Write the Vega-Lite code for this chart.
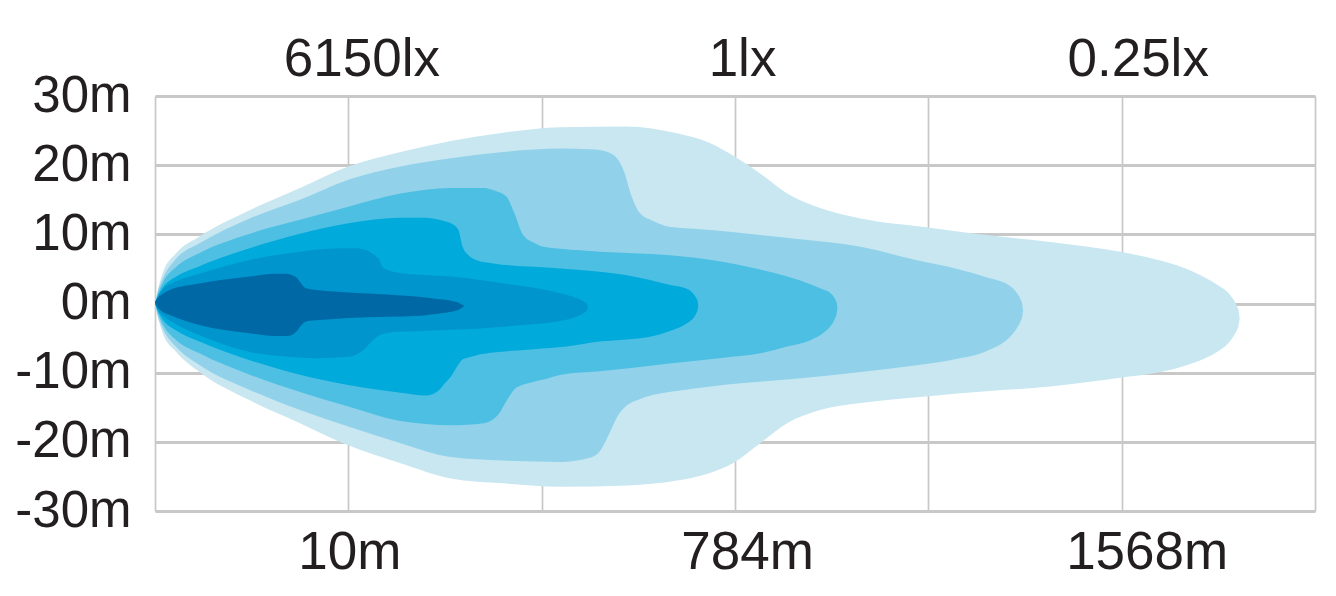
{
  "$schema": "https://vega.github.io/schema/vega-lite/v6.json",
  "autosize": "none",
  "width": 1160,
  "height": 415,
  "padding": {"left": 155, "top": 96, "right": 21, "bottom": 85},
  "background": "white",
  "config": {
    "view": {"stroke": null},
    "axis": {"labelFont": "Liberation Sans", "labelColor": "#231f20", "labelFontSize": 51, "title": null}
  },
  "datasets": {
    "b6": [
      {"d": 0, "hi": 0, "lo": 0}, {"d": 0.015, "hi": 2.0, "lo": -2.0}, {"d": 0.04, "hi": 4.4, "lo": -4.3},
      {"d": 0.11, "hi": 7.3, "lo": -7.0}, {"d": 0.23, "hi": 9.7, "lo": -9.9}, {"d": 0.49, "hi": 13.5, "lo": -14.0},
      {"d": 0.75, "hi": 16.7, "lo": -17.3}, {"d": 1.0, "hi": 19.8, "lo": -20.5}, {"d": 1.27, "hi": 21.9, "lo": -23.1},
      {"d": 1.53, "hi": 23.5, "lo": -25.3}, {"d": 1.8, "hi": 24.7, "lo": -26.0}, {"d": 2.1, "hi": 25.5, "lo": -26.5},
      {"d": 2.44, "hi": 25.6, "lo": -26.3}, {"d": 2.7, "hi": 24.6, "lo": -25.6}, {"d": 2.87, "hi": 23.2, "lo": -24.5},
      {"d": 3.0, "hi": 21.2, "lo": -22.9}, {"d": 3.13, "hi": 18.8, "lo": -20.2}, {"d": 3.27, "hi": 15.9, "lo": -17.3},
      {"d": 3.44, "hi": 13.8, "lo": -15.4}, {"d": 3.65, "hi": 12.3, "lo": -14.4}, {"d": 4.0, "hi": 11.0, "lo": -13.4},
      {"d": 4.3, "hi": 9.9, "lo": -12.7}, {"d": 4.63, "hi": 8.9, "lo": -12.0}, {"d": 5.0, "hi": 7.45, "lo": -10.7},
      {"d": 5.2, "hi": 6.2, "lo": -9.9}, {"d": 5.37, "hi": 4.6, "lo": -8.6}, {"d": 5.5, "hi": 2.6, "lo": -6.9},
      {"d": 5.55, "hi": 1.6, "lo": -5.8}, {"d": 5.57, "hi": 0.9, "lo": -5.1}, {"d": 5.59, "hi": 0.0, "lo": -4.2},
      {"d": 5.6, "hi": -0.6, "lo": -3.6}, {"d": 5.605, "hi": -1.0, "lo": -3.2}, {"d": 5.61, "hi": -2.1, "lo": -2.1}
    ],
    "b5": [
      {"d": 0, "hi": 0, "lo": 0}, {"d": 0.015, "hi": 1.8, "lo": -1.8}, {"d": 0.04, "hi": 3.6, "lo": -3.6},
      {"d": 0.11, "hi": 6.5, "lo": -6.3}, {"d": 0.23, "hi": 8.7, "lo": -8.9}, {"d": 0.49, "hi": 12.3, "lo": -12.5},
      {"d": 0.75, "hi": 15.0, "lo": -15.4}, {"d": 1.0, "hi": 17.9, "lo": -17.8}, {"d": 1.27, "hi": 19.8, "lo": -20.2},
      {"d": 1.53, "hi": 21.0, "lo": -22.2}, {"d": 1.8, "hi": 21.9, "lo": -22.7}, {"d": 2.1, "hi": 22.4, "lo": -22.9},
      {"d": 2.25, "hi": 22.3, "lo": -22.3}, {"d": 2.3, "hi": 22.2, "lo": -21.4}, {"d": 2.35, "hi": 21.8, "lo": -18.8},
      {"d": 2.39, "hi": 21.0, "lo": -16.4}, {"d": 2.43, "hi": 18.8, "lo": -15.0}, {"d": 2.46, "hi": 15.9, "lo": -14.4},
      {"d": 2.51, "hi": 13.0, "lo": -13.8}, {"d": 2.58, "hi": 11.9, "lo": -13.2}, {"d": 2.66, "hi": 11.1, "lo": -12.8},
      {"d": 2.79, "hi": 10.8, "lo": -12.3}, {"d": 2.96, "hi": 10.4, "lo": -11.7}, {"d": 3.13, "hi": 9.9, "lo": -11.3},
      {"d": 3.3, "hi": 9.4, "lo": -10.9}, {"d": 3.65, "hi": 8.2, "lo": -9.9}, {"d": 3.92, "hi": 6.4, "lo": -9.0},
      {"d": 4.15, "hi": 5.0, "lo": -8.0}, {"d": 4.3, "hi": 3.8, "lo": -6.9}, {"d": 4.43, "hi": 2.4, "lo": -4.6},
      {"d": 4.45, "hi": 1.8, "lo": -3.9}, {"d": 4.47, "hi": 1.0, "lo": -3.0}, {"d": 4.48, "hi": 0.4, "lo": -2.4},
      {"d": 4.485, "hi": 0.0, "lo": -2.0}, {"d": 4.49, "hi": -1.0, "lo": -1.0}
    ],
    "b4": [
      {"d": 0, "hi": 0, "lo": 0}, {"d": 0.015, "hi": 1.4, "lo": -1.4}, {"d": 0.04, "hi": 3.0, "lo": -3.0},
      {"d": 0.11, "hi": 5.3, "lo": -5.3}, {"d": 0.23, "hi": 7.3, "lo": -7.2}, {"d": 0.49, "hi": 10.1, "lo": -10.3},
      {"d": 0.75, "hi": 12.1, "lo": -12.8}, {"d": 1.0, "hi": 14.0, "lo": -14.9}, {"d": 1.27, "hi": 15.9, "lo": -17.0},
      {"d": 1.53, "hi": 16.7, "lo": -17.6}, {"d": 1.7, "hi": 16.7, "lo": -17.3}, {"d": 1.74, "hi": 16.5, "lo": -16.9},
      {"d": 1.78, "hi": 16.1, "lo": -15.9}, {"d": 1.82, "hi": 15.4, "lo": -14.0}, {"d": 1.86, "hi": 13.0, "lo": -12.4},
      {"d": 1.9, "hi": 10.1, "lo": -11.8}, {"d": 1.96, "hi": 8.8, "lo": -11.3}, {"d": 2.01, "hi": 8.2, "lo": -11.0},
      {"d": 2.1, "hi": 7.9, "lo": -10.3}, {"d": 2.3, "hi": 7.5, "lo": -9.8}, {"d": 2.65, "hi": 7.0, "lo": -8.7},
      {"d": 2.92, "hi": 6.1, "lo": -7.9}, {"d": 3.13, "hi": 4.9, "lo": -7.2}, {"d": 3.27, "hi": 3.9, "lo": -6.2},
      {"d": 3.39, "hi": 2.8, "lo": -5.3}, {"d": 3.46, "hi": 2.0, "lo": -4.2}, {"d": 3.49, "hi": 1.6, "lo": -3.4},
      {"d": 3.51, "hi": 1.0, "lo": -2.6}, {"d": 3.52, "hi": 0.5, "lo": -2.0}, {"d": 3.525, "hi": 0.2, "lo": -1.6},
      {"d": 3.53, "hi": -0.7, "lo": -0.7}
    ],
    "b3": [
      {"d": 0, "hi": 0, "lo": 0}, {"d": 0.015, "hi": 1.1, "lo": -1.1}, {"d": 0.04, "hi": 2.3, "lo": -2.3},
      {"d": 0.11, "hi": 3.9, "lo": -3.9}, {"d": 0.23, "hi": 5.4, "lo": -5.5}, {"d": 0.49, "hi": 8.0, "lo": -8.2},
      {"d": 0.75, "hi": 10.1, "lo": -10.3}, {"d": 1.0, "hi": 11.6, "lo": -11.8}, {"d": 1.27, "hi": 12.4, "lo": -12.9},
      {"d": 1.4, "hi": 12.4, "lo": -13.3}, {"d": 1.47, "hi": 12.1, "lo": -12.5}, {"d": 1.5, "hi": 11.9, "lo": -11.5},
      {"d": 1.53, "hi": 11.6, "lo": -10.6}, {"d": 1.57, "hi": 10.6, "lo": -8.8}, {"d": 1.59, "hi": 8.3, "lo": -8.1},
      {"d": 1.62, "hi": 7.0, "lo": -7.8}, {"d": 1.66, "hi": 6.3, "lo": -7.5}, {"d": 1.75, "hi": 5.8, "lo": -7.1},
      {"d": 1.96, "hi": 5.3, "lo": -6.6}, {"d": 2.13, "hi": 5.0, "lo": -6.2}, {"d": 2.3, "hi": 4.6, "lo": -5.5},
      {"d": 2.44, "hi": 4.1, "lo": -5.2}, {"d": 2.56, "hi": 3.4, "lo": -4.8}, {"d": 2.66, "hi": 2.7, "lo": -4.0},
      {"d": 2.73, "hi": 2.3, "lo": -3.2}, {"d": 2.77, "hi": 1.8, "lo": -2.5}, {"d": 2.79, "hi": 1.2, "lo": -1.9},
      {"d": 2.8, "hi": 0.8, "lo": -1.4}, {"d": 2.805, "hi": 0.5, "lo": -1.1}, {"d": 2.81, "hi": -0.3, "lo": -0.3}
    ],
    "b2": [
      {"d": 0, "hi": 0, "lo": 0}, {"d": 0.015, "hi": 1.0, "lo": -0.9}, {"d": 0.04, "hi": 2.0, "lo": -1.7},
      {"d": 0.11, "hi": 3.2, "lo": -3.0}, {"d": 0.23, "hi": 4.3, "lo": -4.6}, {"d": 0.49, "hi": 6.3, "lo": -7.0},
      {"d": 0.75, "hi": 7.5, "lo": -7.8}, {"d": 0.84, "hi": 7.8, "lo": -7.9}, {"d": 1.0, "hi": 8.0, "lo": -7.7},
      {"d": 1.04, "hi": 8.0, "lo": -7.4}, {"d": 1.08, "hi": 7.8, "lo": -6.7}, {"d": 1.11, "hi": 7.5, "lo": -5.8},
      {"d": 1.14, "hi": 6.9, "lo": -5.0}, {"d": 1.16, "hi": 6.3, "lo": -4.6}, {"d": 1.18, "hi": 5.2, "lo": -4.4},
      {"d": 1.25, "hi": 4.5, "lo": -4.1}, {"d": 1.35, "hi": 4.2, "lo": -4.0}, {"d": 1.53, "hi": 3.9, "lo": -3.8},
      {"d": 1.68, "hi": 3.4, "lo": -3.6}, {"d": 1.78, "hi": 3.0, "lo": -3.4}, {"d": 1.95, "hi": 2.3, "lo": -3.0},
      {"d": 2.08, "hi": 1.6, "lo": -2.6}, {"d": 2.16, "hi": 1.0, "lo": -2.1}, {"d": 2.21, "hi": 0.4, "lo": -1.5},
      {"d": 2.23, "hi": 0.03, "lo": -1.13}, {"d": 2.235, "hi": -0.15, "lo": -0.95}, {"d": 2.24, "hi": -0.55, "lo": -0.55}
    ],
    "b1": [
      {"d": 0, "hi": 0.2, "lo": 0.2}, {"d": 0.01, "hi": 0.7, "lo": -0.4}, {"d": 0.03, "hi": 1.2, "lo": -1.0},
      {"d": 0.08, "hi": 2.0, "lo": -1.7}, {"d": 0.23, "hi": 2.9, "lo": -3.1}, {"d": 0.49, "hi": 3.9, "lo": -4.3},
      {"d": 0.62, "hi": 4.3, "lo": -4.7}, {"d": 0.68, "hi": 4.3, "lo": -4.7}, {"d": 0.71, "hi": 4.1, "lo": -4.5},
      {"d": 0.73, "hi": 3.8, "lo": -4.1}, {"d": 0.75, "hi": 3.1, "lo": -3.35}, {"d": 0.78, "hi": 2.2, "lo": -2.6},
      {"d": 0.85, "hi": 1.9, "lo": -2.4}, {"d": 1.0, "hi": 1.6, "lo": -2.1}, {"d": 1.2, "hi": 1.3, "lo": -1.9},
      {"d": 1.35, "hi": 1.0, "lo": -1.8}, {"d": 1.45, "hi": 0.7, "lo": -1.5}, {"d": 1.53, "hi": 0.4, "lo": -1.2},
      {"d": 1.57, "hi": 0.1, "lo": -0.9}, {"d": 1.6, "hi": -0.36, "lo": -0.36}
    ]
  },
  "resolve": {"axis": {"x": "independent"}},
  "encoding": {
    "y": {"field": "hi", "type": "quantitative", "scale": {"domain": [-30, 30], "nice": false, "zero": false},
      "axis": {"orient": "left", "values": [-30, -20, -10, 0, 10, 20, 30], "grid": true, "gridColor": "#c8c8c8", "gridWidth": 3,
        "domain": false, "ticks": false, "labelPadding": 24, "labelOverlap": false, "labelExpr": "datum.value + 'm'"}},
    "y2": {"field": "lo"}
  },
  "layer": [
    {
      "data": {"name": "b6"},
      "mark": {"type": "area", "interpolate": "monotone", "color": "#c8e7f1"},
      "encoding": {
        "x": {"field": "d", "type": "quantitative", "scale": {"domain": [0, 6], "nice": false, "zero": false},
          "axis": {"orient": "bottom", "values": [0, 1, 2, 3, 4, 5, 6], "grid": true, "gridColor": "#c8c8c8", "gridWidth": 1.7,
            "domain": false, "ticks": false, "labelFlush": false, "labelOverlap": false, "labelBaseline": "alphabetic", "labelPadding": 57,
            "labelFontSize": 53,
            "labelOffset": {"condition": [{"test": "datum.value == 3", "value": 12}, {"test": "datum.value == 5", "value": 25}], "value": 1},
            "labelExpr": "datum.value == 1 ? '10m' : datum.value == 3 ? '784m' : datum.value == 5 ? '1568m' : ''"}}
      }
    },
    {
      "data": {"name": "b5"},
      "mark": {"type": "area", "interpolate": "monotone", "color": "#91d2ea"},
      "encoding": {
        "x": {"field": "d", "type": "quantitative",
          "axis": {"orient": "top", "values": [1, 3, 5], "grid": false, "domain": false, "ticks": false, "labelFlush": false,
            "labelOverlap": false, "labelBaseline": "alphabetic", "labelPadding": 21, "labelFontSize": 53,
            "labelOffset": {"condition": [{"test": "datum.value == 1", "value": 13}, {"test": "datum.value == 3", "value": 7}], "value": 16},
            "labelExpr": "datum.value == 1 ? '6150lx' : datum.value == 3 ? '1lx' : '0.25lx'"}}
      }
    },
    {
      "data": {"name": "b4"},
      "mark": {"type": "area", "interpolate": "monotone", "color": "#4dbfe3"},
      "encoding": {"x": {"field": "d", "type": "quantitative", "axis": null}}
    },
    {
      "data": {"name": "b3"},
      "mark": {"type": "area", "interpolate": "monotone", "color": "#00aadb"},
      "encoding": {"x": {"field": "d", "type": "quantitative", "axis": null}}
    },
    {
      "data": {"name": "b2"},
      "mark": {"type": "area", "interpolate": "monotone", "color": "#0095cd"},
      "encoding": {"x": {"field": "d", "type": "quantitative", "axis": null}}
    },
    {
      "data": {"name": "b1"},
      "mark": {"type": "area", "interpolate": "monotone", "color": "#0068a5"},
      "encoding": {"x": {"field": "d", "type": "quantitative", "axis": null}}
    }
  ]
}
